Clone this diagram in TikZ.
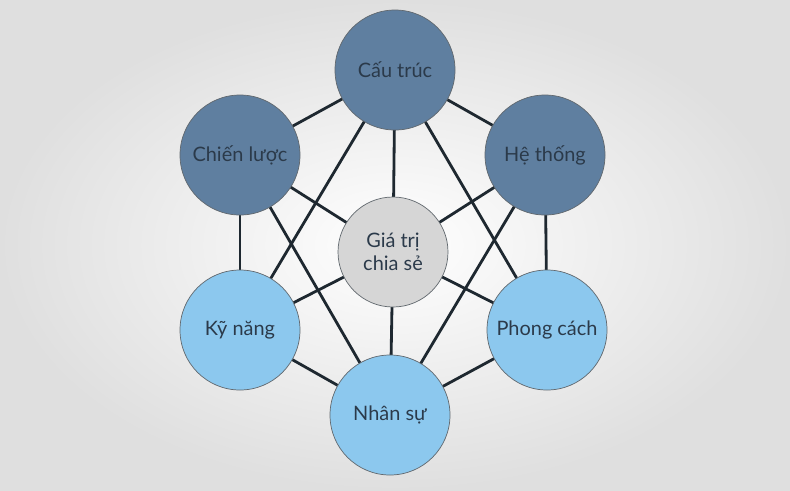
\documentclass[tikz,border=0pt]{standalone}
\usepackage{fontspec}
\setmainfont{Lato}
\definecolor{darkblue}{HTML}{5F7FA0}
\definecolor{lightblue}{HTML}{8CC8EE}
\definecolor{centergray}{HTML}{D6D6D6}
\definecolor{textcol}{HTML}{2B3A4A}
\definecolor{linecol}{HTML}{1E2830}
\begin{document}
\begin{tikzpicture}[x=0.03cm, y=-0.03cm,
    element/.style = {circle, minimum size=3.6cm, inner sep=0pt, draw=linecol!70, line width=0.6pt,
                      text=textcol, font=\fontsize{17}{20}\selectfont, align=center},
    hard/.style = {element, fill=darkblue},
    soft/.style = {element, fill=lightblue},
    core/.style = {element, fill=centergray, minimum size=3.3cm},
    link/.style = {draw=linecol, line width=2.4pt}]
  \useasboundingbox (0,0) rectangle (790,490);
  \shade[inner color=white, outer color=gray!25] (0,0) rectangle (790,490);

  % links first, circles on top
  \coordinate (s) at (395,70);
  \coordinate (t) at (240,155);
  \coordinate (y) at (545,155);
  \coordinate (v) at (393,252);
  \coordinate (k) at (240,330);
  \coordinate (p) at (547,330);
  \coordinate (n) at (390,415);
  \foreach \a/\b in {s/t, s/y, s/v, s/k, s/p, t/v, t/k, t/n, y/v, y/p, y/n,
                     v/k, v/p, v/n, k/n, p/n}
    \path[link] (\a) -- (\b);

  \node[hard] (structure) at (s) {Cấu trúc};
  \node[hard] (strategy)  at (t) {Chiến lược};
  \node[hard] (systems)   at (y) {Hệ thống};
  \node[core] (values)    at (v) {Giá trị\\chia sẻ};
  \node[soft] (skills)    at (k) {Kỹ năng};
  \node[soft] (style)     at (p) {Phong cách};
  \node[soft] (staff)     at (n) {Nhân sự};
\end{tikzpicture}
\end{document}
